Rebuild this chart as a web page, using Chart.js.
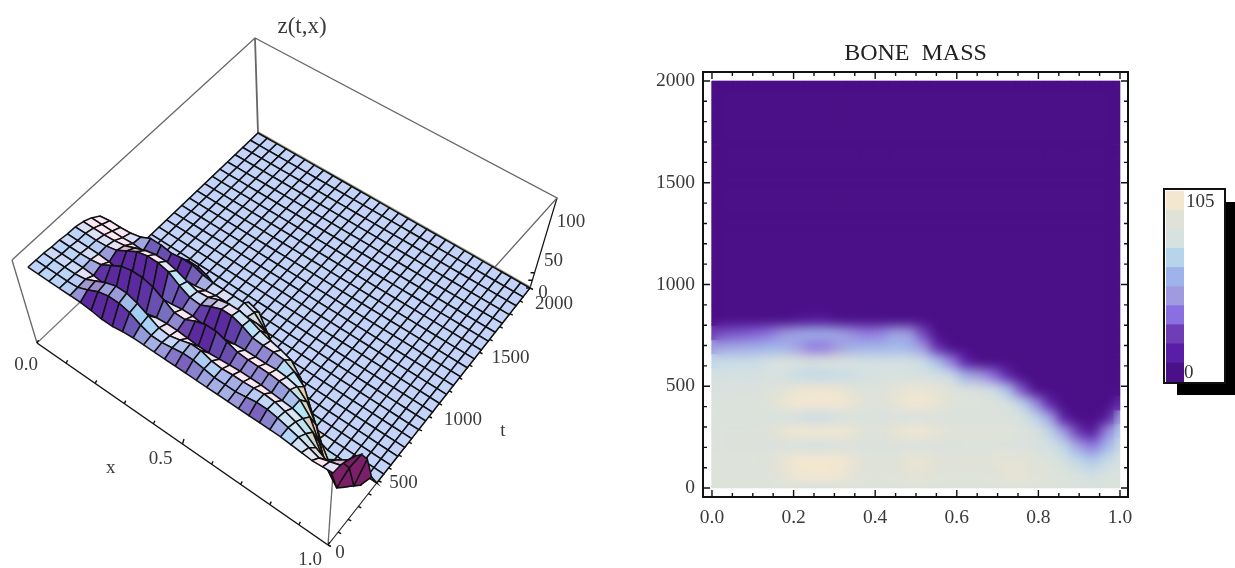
<!DOCTYPE html>
<html>
<head>
  <title>Bone mass</title>
  <script src="https://cdn.jsdelivr.net/npm/chart.js"></script>
  <style>
    body { margin: 0; background: #fff; }
    canvas { position: absolute; filter: blur(0.6px); }
    #legendShadow { position: absolute; left: 1177px; top: 202px; width: 58px; height: 193px; background: #000; }
    #legendBox { position: absolute; left: 1163px; top: 188px; width: 59px; height: 192px; background: #fff; border: 2px solid #111; }
  </style>
</head>
<body>
  <canvas id="surfaceChart" width="640" height="568" style="left:0;top:0"></canvas>
  <canvas id="densityChart" width="520" height="568" style="left:640px;top:0"></canvas>
  <div id="legendShadow"></div>
  <div id="legendBox"></div>
  <canvas id="legendChart" width="62" height="195" style="left:1163px;top:188px"></canvas>
  <script>
// grid of the solution, x across, t down the list
var xGrid = [0, 0.034, 0.069, 0.103, 0.138, 0.172, 0.207, 0.241, 0.276, 0.31, 0.345, 0.379, 0.414, 0.448, 0.483, 0.517, 0.552, 0.586, 0.621, 0.655, 0.69, 0.724, 0.759, 0.793, 0.828, 0.862, 0.897, 0.931, 0.966, 1];
var tGrid = [0, 69, 138, 207, 276, 345, 414, 483, 552, 621, 690, 759, 828, 897, 966, 1034, 1103, 1172, 1241, 1310, 1379, 1448, 1517, 1586, 1655, 1724, 1793, 1862, 1931, 2000];
var zRows = [
  [86,86,86,86,86,86,85,83,83,85,86,86,86,86,86,86,86,86,86,86,86,86,86,86,86,85,84,83,84,85],
  [86,86,86,86,87,92,98,101,101,98,92,88,88,90,92,92,90,88,88,88,90,92,92,90,87,84,80,76,80,84],
  [86,86,86,86,88,94,100,104,104,100,94,88,87,90,94,94,90,89,90,90,91,92,91,88,84,78,70,64,72,80],
  [85,85,85,85,84,82,79,78,78,80,83,84,84,83,82,82,83,84,85,85,85,84,83,82,78,70,50,38,58,74],
  [85,85,85,86,88,95,102,105,105,102,95,88,88,94,98,98,94,90,89,89,89,88,86,82,70,48,24,10,42,66],
  [84,84,84,84,83,80,77,75,75,78,81,83,83,81,80,80,82,83,83,83,84,83,80,70,50,14,0,0,10,50],
  [84,84,84,85,88,95,102,105,105,102,94,88,87,93,98,98,94,88,87,87,86,80,70,44,18,0,0,0,0,18],
  [82,82,82,83,85,90,95,98,98,95,90,86,87,92,95,95,92,87,83,80,76,62,30,4,0,0,0,0,0,0],
  [78,78,78,78,79,78,74,72,72,74,76,78,80,80,78,78,78,74,56,48,36,18,0,0,0,0,0,0,0,0],
  [72,74,74,75,78,84,84,82,84,84,80,78,78,78,78,74,62,40,16,3,0,0,0,0,0,0,0,0,0,0],
  [48,52,54,56,58,58,50,40,40,48,56,58,58,60,58,46,20,2,0,0,0,0,0,0,0,0,0,0,0,0],
  [26,30,32,34,38,46,52,56,56,52,44,40,42,52,48,28,3,0,0,0,0,0,0,0,0,0,0,0,0,0],
  [0,0,0,0,2,4,8,10,10,6,2,0,0,2,1,0,0,0,0,0,0,0,0,0,0,0,0,0,0,0],
  [0,0,0,0,0,0,0,0,0,0,0,0,0,0,0,0,0,0,0,0,0,0,0,0,0,0,0,0,0,0],
  [0,0,0,0,0,0,0,0,0,0,0,0,0,0,0,0,0,0,0,0,0,0,0,0,0,0,0,0,0,0],
  [0,0,0,0,0,0,0,0,0,0,0,0,0,0,0,0,0,0,0,0,0,0,0,0,0,0,0,0,0,0],
  [0,0,0,0,0,0,0,0,0,0,0,0,0,0,0,0,0,0,0,0,0,0,0,0,0,0,0,0,0,0],
  [0,0,0,0,0,0,0,0,0,0,0,0,0,0,0,0,0,0,0,0,0,0,0,0,0,0,0,0,0,0],
  [0,0,0,0,0,0,0,0,0,0,0,0,0,0,0,0,0,0,0,0,0,0,0,0,0,0,0,0,0,0],
  [0,0,0,0,0,0,0,0,0,0,0,0,0,0,0,0,0,0,0,0,0,0,0,0,0,0,0,0,0,0],
  [0,0,0,0,0,0,0,0,0,0,0,0,0,0,0,0,0,0,0,0,0,0,0,0,0,0,0,0,0,0],
  [0,0,0,0,0,0,0,0,0,0,0,0,0,0,0,0,0,0,0,0,0,0,0,0,0,0,0,0,0,0],
  [0,0,0,0,0,0,0,0,0,0,0,0,0,0,0,0,0,0,0,0,0,0,0,0,0,0,0,0,0,0],
  [0,0,0,0,0,0,0,0,0,0,0,0,0,0,0,0,0,0,0,0,0,0,0,0,0,0,0,0,0,0],
  [0,0,0,0,0,0,0,0,0,0,0,0,0,0,0,0,0,0,0,0,0,0,0,0,0,0,0,0,0,0],
  [0,0,0,0,0,0,0,0,0,0,0,0,0,0,0,0,0,0,0,0,0,0,0,0,0,0,0,0,0,0],
  [0,0,0,0,0,0,0,0,0,0,0,0,0,0,0,0,0,0,0,0,0,0,0,0,0,0,0,0,0,0],
  [0,0,0,0,0,0,0,0,0,0,0,0,0,0,0,0,0,0,0,0,0,0,0,0,0,0,0,0,0,0],
  [0,0,0,0,0,0,0,0,0,0,0,0,0,0,0,0,0,0,0,0,0,0,0,0,0,0,0,0,0,0],
  [0,0,0,0,0,0,0,0,0,0,0,0,0,0,0,0,0,0,0,0,0,0,0,0,0,0,0,0,0,0]
];

// legend bands, bottom to top
var bandEdges = [0, 10.5, 21, 31.5, 42, 52.5, 63, 73.5, 84, 94.5, 105];
var bandColors = ['#4b0f87', '#5a1ea6', '#6f3eb5', '#8a6fe0', '#a09ae0', '#9fb3ea', '#b7d5ea', '#d6e1e0', '#e0e2d8', '#f3e7cf'];

var densityXTicks = [0, 0.05, 0.1, 0.15, 0.2, 0.25, 0.3, 0.35, 0.4, 0.45, 0.5, 0.55, 0.6, 0.65, 0.7, 0.75, 0.8, 0.85, 0.9, 0.95, 1];
var densityYTicks = [0, 100, 200, 300, 400, 500, 600, 700, 800, 900, 1000, 1100, 1200, 1300, 1400, 1500, 1600, 1700, 1800, 1900, 2000];

var xAxisTicks = [0, 0.1, 0.2, 0.3, 0.4, 0.5, 0.6, 0.7, 0.8, 0.9, 1];
var tAxisTicks = [0, 100, 200, 300, 400, 500, 600, 700, 800, 900, 1000, 1100, 1200, 1300, 1400, 1500, 1600, 1700, 1800, 1900, 2000];
var zAxisTicks = [0, 10, 20, 30, 40, 50, 60, 70, 80, 90, 100, 110];
var zTop = 118;

// pixel corners of the 3d box [x=0 t=0, x=1 t=0, x=1 t=2000, x=0 t=2000]
var floorCorners = [[37, 343], [328, 545], [530, 288], [258, 133]];
var topCorners = [[12, 260], [335, 445], [557, 198], [255, 38]];
var surfaceTop = [[24.5, 239], [335, 445], [557, 198], [255, 38]];

function project(x, t, z, tops) {
  var v = t / 2000, w = z / zTop, c = floorCorners, d = tops || topCorners;
  function bi(q, k) {
    return (1 - x) * (1 - v) * q[0][k] + x * (1 - v) * q[1][k] + x * v * q[2][k] + (1 - x) * v * q[3][k];
  }
  return { x: bi(c, 0) + (bi(d, 0) - bi(c, 0)) * w, y: bi(c, 1) + (bi(d, 1) - bi(c, 1)) * w };
}

function hexRgb(h) {
  return [parseInt(h.substr(1, 2), 16), parseInt(h.substr(3, 2), 16), parseInt(h.substr(5, 2), 16)];
}
function mix(a, b, f) {
  f = Math.max(0, Math.min(1, f));
  return [a[0] + (b[0] - a[0]) * f, a[1] + (b[1] - a[1]) * f, a[2] + (b[2] - a[2]) * f];
}
function css(c) {
  return 'rgb(' + Math.round(c[0]) + ',' + Math.round(c[1]) + ',' + Math.round(c[2]) + ')';
}

// colour of a value, blended between band centres
function densityColor(v) {
  var p = v / 10.5 - 0.5;
  if (p <= 0) return bandColors[0];
  if (p >= 9) return bandColors[9];
  var k = Math.floor(p);
  return css(mix(hexRgb(bandColors[k]), hexRgb(bandColors[k + 1]), p - k));
}

// rough stand in for the coloured lights of the 3d plot
function surfaceColor(a, b, c, d) {
  var st = (c + d - a - b) / 2;
  var sx = (b + d - a - c) / 2;
  var col = mix(hexRgb('#c3d3f9'), hexRgb('#bcd4fa'), (a + b + c + d) / 4 / 80);
  if (st > 0) col = mix(col, hexRgb('#5a2a9e'), st / 9);
  if (st < 0) col = mix(col, hexRgb('#fde8f4'), -st / 4);
  if (sx > 0) col = mix(col, hexRgb('#7c1f68'), (sx - 3) / 12);
  if (sx < 0) col = mix(col, hexRgb('#a0e4f8'), -sx / 10);
  if (st < -6 && sx < -3) col = mix(col, hexRgb('#f6c8a8'), (-st - 6) / 14);
  return css(col);
}

function lineSet(points, color, width) {
  return { type: 'line', data: points, borderColor: color, borderWidth: width, pointRadius: 0, tension: 0, fill: false, spanGaps: false };
}

function tickSegments(values, from, dx, dy) {
  var out = [];
  values.forEach(function (v) {
    var p = from(v);
    out.push({ x: p.x, y: p.y }, { x: p.x + dx(v), y: p.y + dy(v) }, { x: NaN, y: NaN });
  });
  return out;
}

// surface quads, far to near
var surfaceQuads = [];
for (var j = tGrid.length - 2; j >= 0; j--) {
  for (var i = 0; i < xGrid.length - 1; i++) {
    var a = zRows[j][i], b = zRows[j][i + 1], c = zRows[j + 1][i], d = zRows[j + 1][i + 1];
    surfaceQuads.push({
      type: 'line',
      data: [
        project(xGrid[i], tGrid[j], a, surfaceTop),
        project(xGrid[i + 1], tGrid[j], b, surfaceTop),
        project(xGrid[i + 1], tGrid[j + 1], d, surfaceTop),
        project(xGrid[i], tGrid[j + 1], c, surfaceTop),
        project(xGrid[i], tGrid[j], a, surfaceTop)
      ],
      borderColor: '#111', borderWidth: 1.5, pointRadius: 0, tension: 0,
      fill: 'shape', backgroundColor: surfaceColor(a, b, c, d)
    });
  }
}

var boxSets = [
  lineSet([project(0, 0, zTop), project(0, 2000, zTop), project(1, 2000, zTop), project(1, 0, zTop)], '#666', 1.3),
  lineSet([project(0, 2000, 0), project(0, 2000, zTop)], '#666', 1.8),
  lineSet([project(0, 0, 0), project(0, 0, zTop)], '#666', 1.3),
  lineSet([project(0, 0, 0), project(0, 2000, 0)], '#777', 1.2),
  lineSet([project(0, 2000, 0), project(1, 2000, 0)], '#9a9a88', 3.5),
  lineSet([project(1, 0, 0), project(1, 0, 88)], '#666', 1.3),
  lineSet([project(1, 2000, 0), project(1, 2000, zTop)], '#111', 1.2),
  lineSet([project(0, 0, 0), project(1, 0, 0)], '#111', 1.5),
  lineSet([project(1, 0, 0), project(1, 2000, 0)], '#222', 1.2)
];
var tickSets = [
  lineSet(tickSegments(xAxisTicks, function (v) { return project(v, 0, 0); },
    function () { return 1.5; }, function (v) { return v === 0.5 ? -5 : -3; }), '#111', 1.4),
  lineSet(tickSegments(tAxisTicks, function (v) { return project(1, v, 0); },
    function () { return 3; }, function () { return 1.5; }), '#111', 1.5),
  lineSet(tickSegments(zAxisTicks, function (v) { return project(1, 2000, v); },
    function () { return -4; }, function () { return 0; }), '#111', 1.5)
];

// chart.js paints the first dataset last
var surfaceSets = tickSets.concat(surfaceQuads.slice().reverse(), boxSets);

// [text, x, t, z, dx, dy]
var surfaceLabels = [
  ['0.0', 0, 0, 0, -11, 22],
  ['0.5', 0.5, 0, 0, -22, 15],
  ['1.0', 1, 0, 0, -18, 15],
  ['x', 0.25, 0, 0, 1, 75],
  ['0', 1, 0, 0, 12, 8],
  ['500', 1, 500, 0, 25, 2],
  ['1000', 1, 1000, 0, 34, 4],
  ['1500', 1, 1500, 0, 31, 6],
  ['2000', 1, 2000, 0, 24, 16],
  ['t', 1, 1000, 0, 74, 15],
  ['0', 1, 2000, 0, 13, 5],
  ['50', 1, 2000, 50, 12, 11],
  ['100', 1, 2000, 100, 18, 10]
];

var surfaceText = {
  id: 'surfaceText',
  afterDraw: function (chart) {
    var ctx = chart.ctx;
    ctx.save();
    ctx.fillStyle = '#3a3a3a';
    ctx.textAlign = 'center';
    ctx.textBaseline = 'middle';
    ctx.font = '19px "Liberation Serif"';
    surfaceLabels.forEach(function (l) {
      var p = project(l[1], l[2], l[3]);
      ctx.fillText(l[0], chart.scales.x.getPixelForValue(p.x + l[4]), chart.scales.y.getPixelForValue(p.y + l[5]));
    });
    ctx.font = '23px "Liberation Serif"';
    var top = project(0, 2000, zTop);
    ctx.fillText('z(t,x)', chart.scales.x.getPixelForValue(top.x + 47), chart.scales.y.getPixelForValue(top.y - 11));
    ctx.restore();
  }
};

new Chart(document.getElementById('surfaceChart'), {
  type: 'line',
  data: { datasets: surfaceSets },
  options: {
    responsive: false,
    animation: false,
    events: [],
    parsing: false,
    normalized: true,
    layout: { padding: 0 },
    plugins: { legend: { display: false }, tooltip: { enabled: false } },
    scales: {
      x: { type: 'linear', min: 0, max: 640, display: false },
      y: { type: 'linear', min: 0, max: 568, reverse: true, display: false }
    }
  },
  plugins: [surfaceText]
});

// density plot, one filled cell per grid value
var densitySets = [];
for (var r = 0; r < tGrid.length; r++) {
  for (var s = 0; s < xGrid.length; s++) {
    var x0 = s === 0 ? 0 : (xGrid[s - 1] + xGrid[s]) / 2;
    var x1 = s === xGrid.length - 1 ? 1 : (xGrid[s] + xGrid[s + 1]) / 2;
    var t0 = r === 0 ? 0 : (tGrid[r - 1] + tGrid[r]) / 2;
    var t1 = r === tGrid.length - 1 ? 2000 : (tGrid[r] + tGrid[r + 1]) / 2;
    var cellColor = densityColor(zRows[r][s]);
    densitySets.push({
      type: 'line',
      data: [{ x: x0, y: t0 }, { x: x1, y: t0 }, { x: x1, y: t1 }, { x: x0, y: t1 }, { x: x0, y: t0 }],
      borderColor: cellColor, borderWidth: 0.6, pointRadius: 0, tension: 0,
      fill: 'shape', backgroundColor: cellColor
    });
  }
}

// soften the cells the way the interpolated density plot looks
var densitySoften = {
  id: 'densitySoften',
  afterDatasetsDraw: function (chart) {
    var sx = chart.scales.x, sy = chart.scales.y;
    var l = sx.getPixelForValue(0), r = sx.getPixelForValue(1);
    var t = sy.getPixelForValue(2000), b = sy.getPixelForValue(0);
    var tmp = document.createElement('canvas');
    tmp.width = chart.canvas.width;
    tmp.height = chart.canvas.height;
    tmp.getContext('2d').drawImage(chart.canvas, l, t, r - l, b - t, l, t, r - l, b - t);
    var ctx = chart.ctx;
    ctx.save();
    ctx.beginPath();
    ctx.rect(l, t, r - l, b - t);
    ctx.clip();
    ctx.filter = 'blur(6px)';
    ctx.drawImage(tmp, 0, 0);
    ctx.restore();
  },
  afterDraw: function (chart) {
    var ctx = chart.ctx, a = chart.chartArea, sx = chart.scales.x, sy = chart.scales.y;
    ctx.save();
    ctx.strokeStyle = '#111';
    ctx.lineWidth = 2;
    ctx.strokeRect(a.left, a.top, a.right - a.left, a.bottom - a.top);
    ctx.lineWidth = 1.4;
    ctx.beginPath();
    densityXTicks.forEach(function (v, k) {
      var len = k % 4 === 0 ? 7 : 4, p = sx.getPixelForValue(v);
      ctx.moveTo(p, a.bottom); ctx.lineTo(p, a.bottom - len);
      ctx.moveTo(p, a.top); ctx.lineTo(p, a.top + len);
    });
    densityYTicks.forEach(function (v, k) {
      var len = k % 5 === 0 ? 7 : 4, p = sy.getPixelForValue(v);
      ctx.moveTo(a.left, p); ctx.lineTo(a.left + len, p);
      ctx.moveTo(a.right, p); ctx.lineTo(a.right - len, p);
    });
    ctx.stroke();
    ctx.restore();
  }
};

new Chart(document.getElementById('densityChart'), {
  type: 'line',
  data: { datasets: densitySets },
  options: {
    responsive: false,
    animation: false,
    events: [],
    parsing: false,
    normalized: true,
    layout: { padding: { right: 32, left: 0, top: 0, bottom: 0 } },
    plugins: {
      legend: { display: false },
      tooltip: { enabled: false },
      title: {
        display: true,
        fullSize: false,
        text: 'BONE  MASS',
        color: '#222',
        font: { family: '"Liberation Serif"', size: 24, weight: 'normal' },
        padding: { top: 39.6, bottom: 3.6 }
      }
    },
    scales: {
      x: {
        type: 'linear', min: -0.022, max: 1.0196,
        grid: { display: false, drawTicks: false },
        border: { display: false },
        afterBuildTicks: function (axis) { axis.ticks = densityXTicks.map(function (v) { return { value: v }; }); },
        afterFit: function (axis) { axis.height = 71; },
        ticks: {
          autoSkip: false, maxRotation: 0, padding: 9, color: '#3a3a3a',
          font: { family: '"Liberation Serif"', size: 19.5 },
          callback: function (value, index) { return index % 4 === 0 ? value.toFixed(1) : ''; }
        }
      },
      y: {
        type: 'linear', min: -44, max: 2044,
        grid: { display: false, drawTicks: false },
        border: { display: false },
        afterBuildTicks: function (axis) { axis.ticks = densityYTicks.map(function (v) { return { value: v }; }); },
        afterFit: function (axis) { axis.width = 63; },
        ticks: {
          autoSkip: false, padding: 8, color: '#3a3a3a',
          font: { family: '"Liberation Serif"', size: 19.5 },
          callback: function (value, index) { return index % 5 === 0 ? String(value) : ''; }
        }
      }
    }
  },
  plugins: [densitySoften]
});

// legend strip
var legendText = {
  id: 'legendText',
  afterDraw: function (chart) {
    var ctx = chart.ctx, sy = chart.scales.y;
    ctx.save();
    ctx.fillStyle = '#333';
    ctx.font = '19px "Liberation Serif"';
    ctx.textBaseline = 'middle';
    ctx.fillText('105', 23, sy.getPixelForValue(105) + 11);
    ctx.fillText('0', 21, sy.getPixelForValue(0) - 9);
    ctx.restore();
  }
};

new Chart(document.getElementById('legendChart'), {
  type: 'bar',
  data: {
    labels: ['z'],
    datasets: bandColors.map(function (col, k) {
      return { data: [[bandEdges[k], bandEdges[k + 1]]], backgroundColor: col, borderWidth: 0, barPercentage: 1, categoryPercentage: 1, grouped: false };
    })
  },
  options: {
    responsive: false,
    animation: false,
    events: [],
    layout: { padding: { left: 3, right: 41, top: 3, bottom: 1 } },
    plugins: { legend: { display: false }, tooltip: { enabled: false } },
    scales: {
      x: { display: false },
      y: { display: false, min: 0, max: 105 }
    }
  },
  plugins: [legendText]
});
  </script>
</body>
</html>
